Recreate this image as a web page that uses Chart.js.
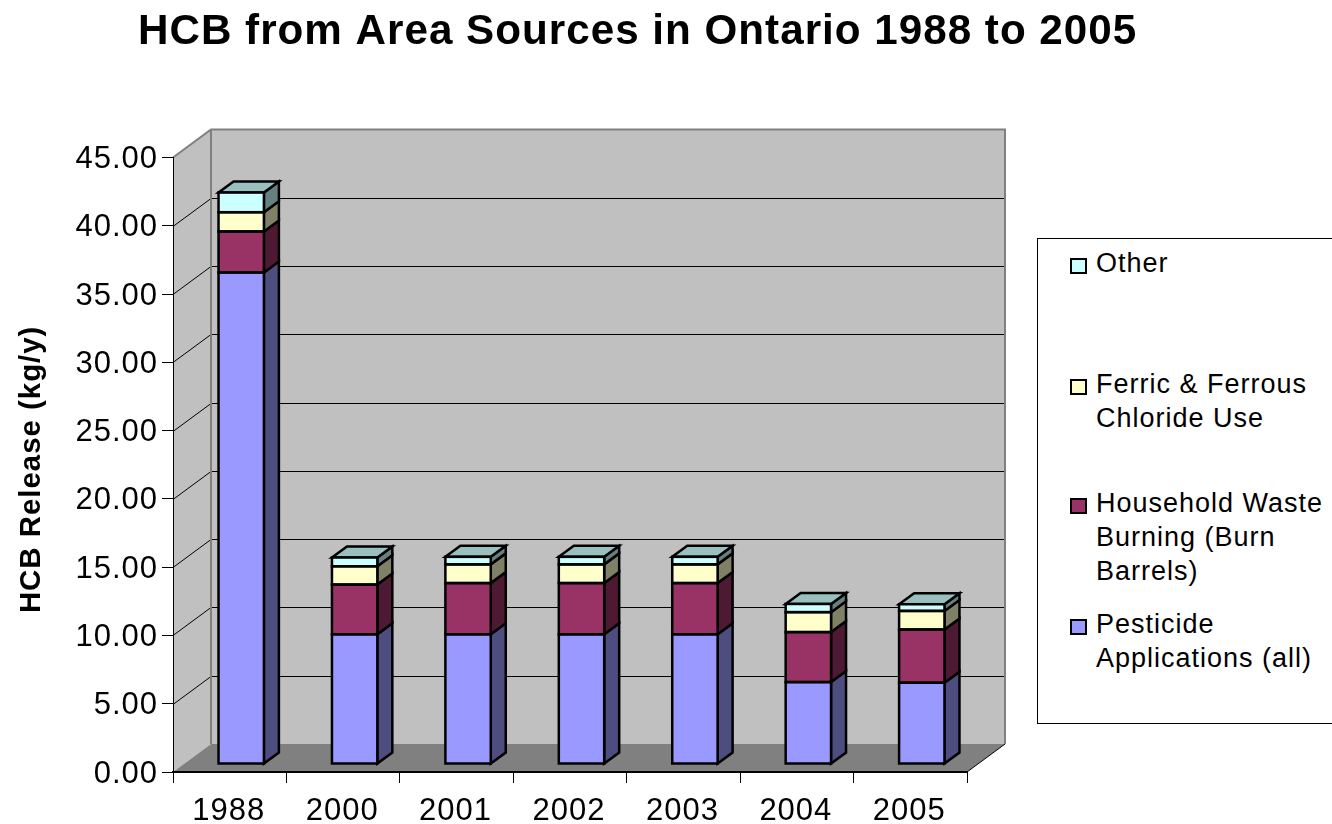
<!DOCTYPE html>
<html lang="en">

<head>
    <meta charset="UTF-8">
    <title>HCB from Area Sources in Ontario 1988 to 2005</title>
    <script src="https://cdn.jsdelivr.net/npm/chart.js"></script>
    <style>
        html, body {
            margin: 0;
            padding: 0;
            background: #ffffff;
            overflow: hidden;
        }

        #wrap {
            position: relative;
            width: 1332px;
            height: 824px;
            overflow: hidden;
        }

        canvas {
            display: block;
        }

        #legend {
            position: absolute;
            left: 1037px;
            top: 238px;
            width: 320px;
            height: 484px;
            border: 1px solid #000000;
            background: #ffffff;
            font-family: 'Liberation Sans', Arial, sans-serif;
            font-size: 27px;
            letter-spacing: 1px;
            line-height: 34px;
            color: #000000;
        }

        .entry {
            position: absolute;
            left: 58px;
            white-space: nowrap;
        }

        .swatch {
            position: absolute;
            left: -26px;
            top: 12px;
            width: 13px;
            height: 12px;
            border: 2px solid #000000;
        }
    </style>
</head>

<body>
    <div id="wrap">
        <canvas id="chart" width="1332" height="824"></canvas>
        <div id="legend"></div>
    </div>

    <script>
        const categories = ['1988', '2000', '2001', '2002', '2003', '2004', '2005'];
        const pesticide = [36.0, 9.5, 9.5, 9.5, 9.5, 6.0, 5.95];
        const household = [3.0, 3.64, 3.75, 3.75, 3.75, 3.66, 3.9];
        const ferric = [1.41, 1.34, 1.37, 1.37, 1.37, 1.46, 1.36];
        const other = [1.44, 0.64, 0.55, 0.55, 0.55, 0.6, 0.49];

        const font = "'Liberation Sans', Arial, sans-serif";

        // how far the bars sit behind the axis plane, and how deep they and the walls are
        const wallDepth = { x: 38, y: -28 };
        const barOffset = { x: 11.5, y: -8 };
        const barDepth = { x: 15, y: -11 };
        const barLine = 2.5;

        const fronts = ['#9999FF', '#993366', '#FFFFCC', '#CCFFFF'];
        const sides = ['#4D4D80', '#4D1933', '#808066', '#668080'];
        const topColor = '#99BFBF';

        function poly(ctx, pts, fill, stroke, lineWidth) {
            ctx.beginPath();
            pts.forEach((p, i) => i ? ctx.lineTo(p[0], p[1]) : ctx.moveTo(p[0], p[1]));
            ctx.closePath();
            if (fill) {
                ctx.fillStyle = fill;
                ctx.fill();
            }
            if (stroke) {
                ctx.strokeStyle = stroke;
                ctx.lineWidth = lineWidth;
                ctx.stroke();
            }
        }

        const walls3d = {
            id: 'walls3d',
            afterLayout(chart) {
                // title is not centred on the page in the original
                chart.titleBlock.left = 138;
                chart.titleBlock.right = 1332;
            },
            beforeDraw(chart) {
                const ctx = chart.ctx;
                const { left, right, top, bottom } = chart.chartArea;
                const dx = wallDepth.x, dy = wallDepth.y;
                ctx.letterSpacing = '1px';

                // side wall, back wall, floor
                poly(ctx, [[left, top], [left + dx, top + dy], [left + dx, bottom + dy], [left, bottom]], '#C0C0C0');
                poly(ctx, [[left + dx, top + dy], [right + dx, top + dy], [right + dx, bottom + dy], [left + dx, bottom + dy]], '#C0C0C0');
                poly(ctx, [[left, bottom], [left + dx, bottom + dy], [right + dx, bottom + dy], [right, bottom]], '#808080');

                // gridlines on the walls
                chart.scales.y.ticks.forEach(t => {
                    if (t.value === 0 || t.value === 45) return;
                    const y = Math.round(chart.scales.y.getPixelForValue(t.value)) + 0.5;
                    ctx.beginPath();
                    ctx.moveTo(left, y);
                    ctx.lineTo(left + dx, y + dy);
                    ctx.lineTo(right + dx, y + dy);
                    ctx.strokeStyle = '#000000';
                    ctx.lineWidth = 1;
                    ctx.stroke();
                });

                // wall edges
                ctx.beginPath();
                ctx.moveTo(left, top);
                ctx.lineTo(left + dx, top + dy);
                ctx.lineTo(right + dx, top + dy);
                ctx.lineTo(right + dx, bottom + dy);
                ctx.moveTo(left + dx, top + dy);
                ctx.lineTo(left + dx, bottom + dy);
                ctx.strokeStyle = '#808080';
                ctx.lineWidth = 2;
                ctx.stroke();

                ctx.beginPath();
                ctx.moveTo(right, bottom);
                ctx.lineTo(right + dx, bottom + dy);
                ctx.strokeStyle = '#000000';
                ctx.lineWidth = 1;
                ctx.stroke();
            },
            beforeDatasetsDraw(chart) {
                const ctx = chart.ctx;
                ctx.save();
                ctx.translate(barOffset.x, barOffset.y);
                const dx = barDepth.x, dy = barDepth.y;
                const last = chart.data.datasets.length - 1;
                chart.data.datasets.forEach((ds, i) => {
                    chart.getDatasetMeta(i).data.forEach(el => {
                        const l = el.x - el.width / 2, r = el.x + el.width / 2;
                        poly(ctx, [[r, el.y], [r + dx, el.y + dy], [r + dx, el.base + dy], [r, el.base]], sides[i], '#000000', barLine);
                        if (i === last) {
                            poly(ctx, [[l, el.y], [l + dx, el.y + dy], [r + dx, el.y + dy], [r, el.y]], topColor, '#000000', barLine);
                        }
                    });
                });
            },
            afterDatasetsDraw(chart) {
                const ctx = chart.ctx;
                // outline the bar fronts here so shared edges stay one line wide
                chart.data.datasets.forEach((ds, i) => {
                    chart.getDatasetMeta(i).data.forEach(el => {
                        ctx.strokeStyle = '#000000';
                        ctx.lineWidth = barLine;
                        ctx.strokeRect(el.x - el.width / 2, el.y, el.width, el.base - el.y);
                    });
                });
                ctx.restore();
            }
        };

        function series(label, data, i) {
            return {
                label: label,
                data: data,
                backgroundColor: fronts[i],
                borderWidth: 0,
                clip: false
            };
        }

        new Chart(document.getElementById('chart').getContext('2d'), {
            type: 'bar',
            data: {
                labels: categories,
                datasets: [
                    series('Pesticide Applications (all)', pesticide, 0),
                    series('Household Waste Burning (Burn Barrels)', household, 1),
                    series('Ferric & Ferrous Chloride Use', ferric, 2),
                    series('Other', other, 3)
                ]
            },
            options: {
                responsive: false,
                animation: false,
                layout: { padding: { top: 0, left: 0, right: 365, bottom: 0 } },
                datasets: { bar: { categoryPercentage: 1, barPercentage: 0.4 } },
                plugins: {
                    legend: { display: false },
                    tooltip: { enabled: false },
                    title: {
                        display: true,
                        text: 'HCB from Area Sources in Ontario 1988 to 2005',
                        align: 'start',
                        color: '#000000',
                        font: { family: font, size: 42.2, weight: 'bold' },
                        padding: { top: 7, bottom: 99.9 }
                    }
                },
                scales: {
                    x: {
                        stacked: true,
                        afterFit(s) { s.height = 52; },
                        grid: { drawOnChartArea: false, drawTicks: true, tickLength: 11, color: '#000000' },
                        border: { color: '#000000', width: 2 },
                        ticks: { color: '#000000', padding: 10, labelOffset: -1, maxRotation: 0, font: { family: font, size: 31 } }
                    },
                    y: {
                        stacked: true,
                        min: 0,
                        max: 45,
                        afterFit(s) { s.width = 173; },
                        grid: { drawOnChartArea: false, drawTicks: true, tickLength: 11, color: '#000000' },
                        border: { color: '#000000', width: 1 },
                        title: {
                            display: true,
                            // trailing space nudges the centred label down, as in the original
                            text: 'HCB Release (kg/y) ',
                            color: '#000000',
                            font: { family: font, size: 29.4, weight: 'bold' },
                            padding: { top: 14.5, bottom: 0 }
                        },
                        ticks: {
                            stepSize: 5,
                            color: '#000000',
                            padding: 4,
                            labelOffset: 2,
                            font: { family: font, size: 31 },
                            callback: v => v.toFixed(2)
                        }
                    }
                }
            },
            plugins: [walls3d]
        });

        // the original legend wraps its labels, lists top to bottom in reverse stack order
        const legendLines = [
            ['Other'],
            ['Ferric & Ferrous', 'Chloride Use'],
            ['Household Waste', 'Burning (Burn', 'Barrels)'],
            ['Pesticide', 'Applications (all)']
        ];
        const legendTops = [7, 128, 247, 368];
        const legend = document.getElementById('legend');
        legendLines.forEach((lines, i) => {
            const entry = document.createElement('div');
            entry.className = 'entry';
            entry.style.top = legendTops[i] + 'px';
            const swatch = document.createElement('span');
            swatch.className = 'swatch';
            swatch.style.background = fronts[3 - i];
            entry.appendChild(swatch);
            lines.forEach((line, j) => {
                if (j) entry.appendChild(document.createElement('br'));
                entry.appendChild(document.createTextNode(line));
            });
            legend.appendChild(entry);
        });
    </script>
</body>

</html>
